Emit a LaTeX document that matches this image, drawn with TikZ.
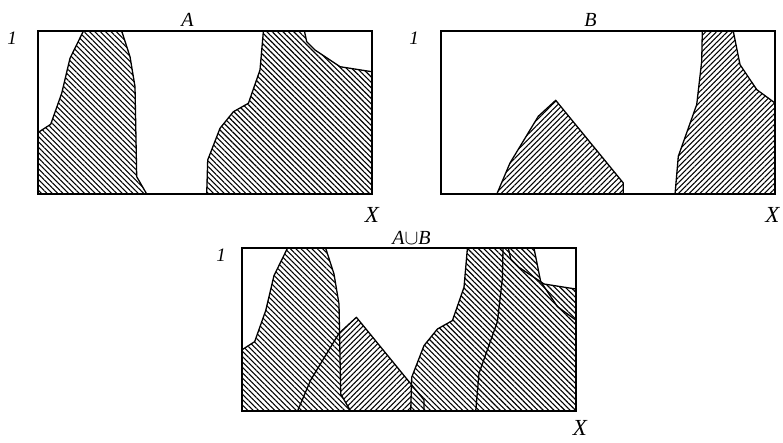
\documentclass[tikz,border=0pt]{standalone}
\usepackage{fontspec}
\setmainfont{Liberation Serif}
\usetikzlibrary{patterns.meta}
\tikzset{
  frame/.style={line width=2pt},
  outline/.style={line width=1.3pt, line join=round},
  hatchA/.style={preaction={fill=white}, pattern={Lines[angle=-45,distance=3.8pt,line width=1.1pt]}},
  hatchB/.style={preaction={fill=white}, pattern={Lines[angle=45,distance=3.8pt,line width=1.1pt]}},
  lab/.style={inner sep=0pt, font=\itshape\fontsize{20}{20}\selectfont},
  one/.style={inner sep=0pt, font=\itshape\fontsize{19}{19}\selectfont},
  xlab/.style={inner sep=0pt, font=\itshape\fontsize{23}{23}\selectfont}
}
\def\ALeft{(0,163) -- (0,101.7) -- (13,93.3) -- (24,62.3) -- (32.3,27.3) -- (45.7,0) -- (84,0) -- (92.3,25.7) -- (97.3,55.7) -- (99,145.7) -- (109,163) -- cycle}
\def\ARight{(169,163) -- (170,129) -- (182.3,97.3) -- (195.7,80.7) -- (210.7,72.3) -- (222.3,39) -- (225.7,0) -- (266.7,0) -- (269,10.7) -- (277.3,19) -- (302.3,35.7) -- (334,40.7) -- (334,163) -- cycle}
\def\BTri{(55.7,163) -- (69,131.7) -- (97.3,85) -- (114.7,69) -- (182.3,151.7) -- (182.3,163) -- cycle}
\def\BRight{(234,163) -- (237.3,125) -- (255.7,73.3) -- (260.7,30) -- (261.3,0) -- (292.3,0) -- (299,33.3) -- (315.7,58.3) -- (334,71.7) -- (334,163) -- cycle}
\begin{document}
\begin{tikzpicture}[x=1pt,y=-1pt]
\useasboundingbox (0,0) rectangle (783,442);
% ---- A ----
\begin{scope}[shift={(37.7,31)}]
  \path[hatchA] \ALeft;
  \path[hatchA] \ARight;
  \draw[outline] \ALeft;
  \draw[outline] \ARight;
  \draw[frame] (0,0) rectangle (334,163);
\end{scope}
\node[lab] (labA) at (187.5,20) {A};
\node[one] (oneA) at (12,38.5) {1};
\node[xlab] (xA) at (372,215) {X};
% ---- B ----
\begin{scope}[shift={(441,31.3)}]
  \path[hatchB] \BTri;
  \path[hatchB] \BRight;
  \draw[outline] \BTri;
  \draw[outline] \BRight;
  \draw[frame] (0,0) rectangle (334,163);
\end{scope}
\node[lab] (labB) at (590.5,20) {B};
\node[one] (oneB) at (414,38.5) {1};
\node[xlab] (xB) at (772.5,215) {X};
% ---- A union B ----
\begin{scope}[shift={(241.7,248.3)}]
  \path[hatchB] \BTri;
  \path[hatchA] \BRight;
  \path[hatchA] \ALeft;
  \path[hatchA] \ARight;
  \draw[outline] \BTri;
  \draw[outline] \BRight;
  \draw[outline] \ALeft;
  \draw[outline] \ARight;
  \draw[frame] (0,0) rectangle (334,163);
\end{scope}
\node[lab] (labU) at (411.5,238) {A$\cup$B};
\node[one] (oneU) at (221,255) {1};
\node[xlab] (xU) at (580,427.5) {X};
\end{tikzpicture}
\end{document}
